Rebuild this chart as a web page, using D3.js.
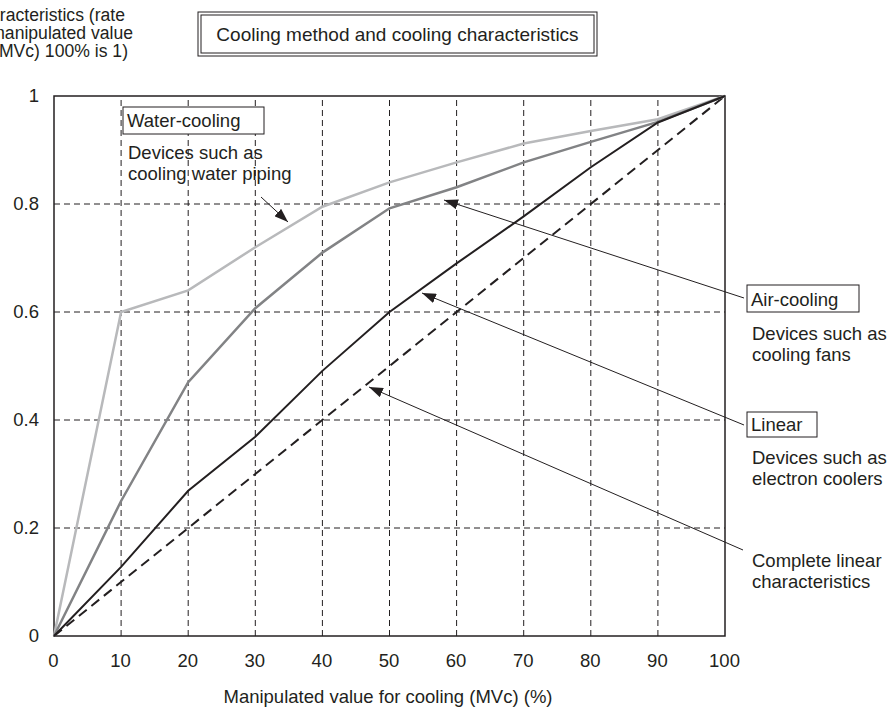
<!DOCTYPE html>
<html><head><meta charset="utf-8">
<script src="https://cdn.jsdelivr.net/npm/d3@7"></script>
<style>
body{margin:0;background:#fff;}
text{font-family:"Liberation Sans",Arial,sans-serif;fill:#231f20;}
</style></head>
<body><svg id="c" width="889" height="711"></svg>
<script>
const xVals = [0,10,20,30,40,50,60,70,80,90,100];
const waterCooling = [0,0.6,0.64,0.72,0.795,0.84,0.877,0.912,0.935,0.957,1];
const airCooling   = [0,0.25,0.47,0.607,0.71,0.792,0.831,0.877,0.915,0.952,1];
const linear       = [0,0.128,0.269,0.369,0.491,0.6,0.69,0.777,0.868,0.951,1];
const completeLinear = [0,1];
const completeLinearX = [0,100];
const xTicks = [0,10,20,30,40,50,60,70,80,90,100];
const yTicks = [0,0.2,0.4,0.6,0.8,1];

const FS = 18.5;
const svg = d3.select("#c");
const x = d3.scaleLinear().domain([0,100]).range([54,725]);
const y = d3.scaleLinear().domain([0,1]).range([636,96]);

// grid
const g = svg.append("g");
g.selectAll(".vg").data(xTicks.slice(1,-1)).enter().append("line")
  .attr("x1",d=>x(d)).attr("x2",d=>x(d)).attr("y1",y(0)).attr("y2",y(1))
  .attr("stroke","#231f20").attr("stroke-width",1).attr("stroke-dasharray","6,4");
g.selectAll(".hg").data(yTicks.slice(1,-1)).enter().append("line")
  .attr("x1",x(0)).attr("x2",x(100)).attr("y1",d=>y(d)).attr("y2",d=>y(d))
  .attr("stroke","#231f20").attr("stroke-width",1).attr("stroke-dasharray","6,4");

// axes
const xa = svg.append("g").attr("transform",`translate(-1,${y(0)})`)
  .call(d3.axisBottom(x).tickValues(xTicks).tickSize(0).tickPadding(18).tickFormat(d3.format("d")));
const ya = svg.append("g").attr("transform",`translate(${x(0)},0)`)
  .call(d3.axisLeft(y).tickValues(yTicks).tickSize(0).tickPadding(15).tickFormat(d=>d===0?"0":d===1?"1":d3.format(".1f")(d)));
[xa,ya].forEach(a=>{a.select(".domain").remove(); a.selectAll("text").attr("font-size",FS).attr("font-family","Liberation Sans, Arial, sans-serif").attr("fill","#231f20");});

// frame
svg.append("rect").attr("x",x(0)).attr("y",y(1)).attr("width",x(100)-x(0)).attr("height",y(0)-y(1))
  .attr("fill","none").attr("stroke","#231f20").attr("stroke-width",1.5);

// series
const line = d3.line().x(d=>x(d[0])).y(d=>y(d[1]));
svg.append("path").datum(completeLinearX.map((v,i)=>[v,completeLinear[i]])).attr("d",line)
  .attr("fill","none").attr("stroke","#231f20").attr("stroke-width",2).attr("stroke-dasharray","10,6");
svg.append("path").datum(xVals.map((v,i)=>[v,waterCooling[i]])).attr("d",line)
  .attr("fill","none").attr("stroke","#b8b9bb").attr("stroke-width",2.5);
svg.append("path").datum(xVals.map((v,i)=>[v,airCooling[i]])).attr("d",line)
  .attr("fill","none").attr("stroke","#828385").attr("stroke-width",2.5);
svg.append("path").datum(xVals.map((v,i)=>[v,linear[i]])).attr("d",line)
  .attr("fill","none").attr("stroke","#231f20").attr("stroke-width",2);

// arrow marker
svg.append("defs").append("marker").attr("id","ah").attr("viewBox","0 0 14 10")
  .attr("refX",14).attr("refY",5).attr("markerWidth",14).attr("markerHeight",10)
  .attr("markerUnits","userSpaceOnUse").attr("orient","auto")
  .append("path").attr("d","M0,0 L14,5 L0,10 Z").attr("fill","#231f20");

function arrow(x1,y1,x2,y2){
  svg.append("line").attr("x1",x1).attr("y1",y1).attr("x2",x2).attr("y2",y2)
    .attr("stroke","#231f20").attr("stroke-width",1).attr("marker-end","url(#ah)");
}
arrow(261,197,288,222);
arrow(744,298,444,200);
arrow(744,425,422,293);
arrow(743,550,369,387);

function txt(x0,y0,s,anchor,fs){
  svg.append("text").attr("x",x0).attr("y",y0).attr("font-size",fs||FS)
    .attr("text-anchor",anchor||"start").text(s);
}
function box(x0,y0,w,h){
  svg.append("rect").attr("x",x0).attr("y",y0).attr("width",w).attr("height",h)
    .attr("fill","#fff").attr("stroke","#231f20").attr("stroke-width",1);
}
// Water-cooling
box(123,107,141,27); txt(127,127,"Water-cooling");
txt(128,159,"Devices such as"); txt(128,180,"cooling water piping");
// Air-cooling
box(747,285,112,27); txt(751,306,"Air-cooling");
txt(752,340,"Devices such as"); txt(752,361,"cooling fans");
// Linear
box(747,412,70,25); txt(751,431,"Linear");
txt(752,464,"Devices such as"); txt(752,485,"electron coolers");
// Complete linear
txt(752,567,"Complete linear"); txt(752,588,"characteristics");

// title box (double border)
svg.append("rect").attr("x",198).attr("y",12).attr("width",399).attr("height",44)
  .attr("fill","#fff").attr("stroke","#231f20").attr("stroke-width",1);
svg.append("rect").attr("x",201).attr("y",15).attr("width",393).attr("height",38)
  .attr("fill","none").attr("stroke","#231f20").attr("stroke-width",1);
txt(397.5,41,"Cooling method and cooling characteristics","middle",19);

// y label (cut off at left, as in the reference)
txt(125,21,"Cooling characteristics (rate","end",17.6);
txt(133,39,"of manipulated value","end",17.6);
txt(128,57,"(MVc) 100% is 1)","end",17.6);

// x label
txt(388,703,"Manipulated value for cooling (MVc) (%)","middle");
</script></body></html>
